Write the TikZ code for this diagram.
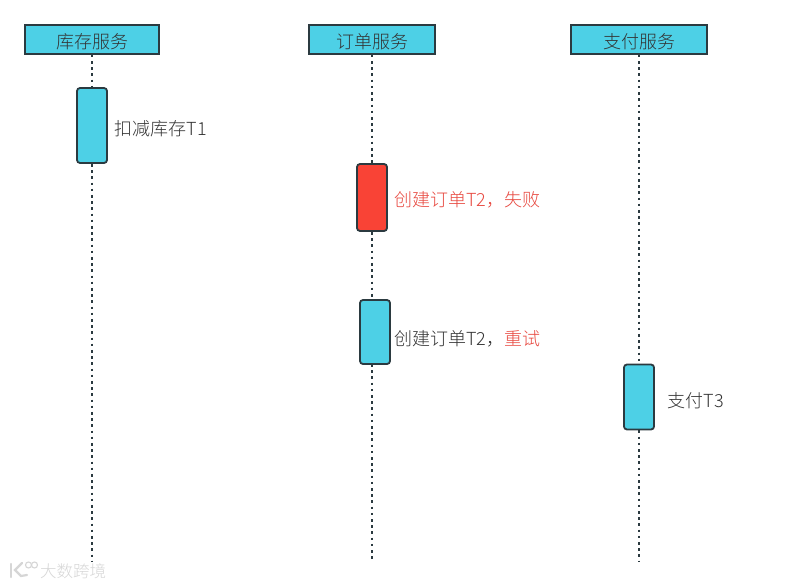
\documentclass[tikz,border=0pt]{standalone}
\usepackage{fontspec}
\setmainfont{Noto Sans CJK SC Light}
\definecolor{cyanfill}{HTML}{4DD0E6}
\definecolor{redfill}{HTML}{F94336}
\definecolor{edgec}{HTML}{2B3A40}
\definecolor{textc}{HTML}{333333}
\definecolor{redtext}{HTML}{E8483F}
\definecolor{wm}{HTML}{D6D6D6}
\tikzset{
  x=1pt,y=-1pt,
  header/.style={draw=edgec,line width=1.8pt,fill=cyanfill,minimum height=29pt,inner sep=0pt,text=textc,text height=19pt,text depth=0pt,font=\fontsize{18}{18}\selectfont},
  act/.style={draw=edgec,line width=1.8pt,rounded corners=3pt,minimum width=30pt,inner sep=0pt},
  lifeline/.style={edgec,line width=2pt,dash pattern=on 2.6pt off 3.6pt},
  lab/.style={anchor=west,inner sep=0pt,text=textc,font=\fontsize{18}{18}\selectfont},
  wmtext/.style={anchor=west,inner sep=0pt,text=wm,font=\fontsize{16.5}{16.5}\selectfont}
}
\begin{document}
\begin{tikzpicture}
\useasboundingbox (0,0) rectangle (809,586);
\fill[white] (0,0) rectangle (809,586);
% headers
\node[header,minimum width=134pt] (h1) at (92,39.5) {库存服务};
\node[header,minimum width=126pt] (h2) at (372,39.5) {订单服务};
\node[header,minimum width=136pt] (h3) at (639,39.5) {支付服务};
% activations
\node[act,fill=cyanfill,minimum height=75pt] (a1) at (92,125.5) {};
\node[act,fill=redfill,minimum height=67pt] (a2) at (372,197.5) {};
\node[act,fill=cyanfill,minimum height=64pt] (a3) at (375,332) {};
\node[act,fill=cyanfill,minimum height=65pt] (a4) at (639,397) {};
% free ends
\coordinate (e1) at (92,561);
\coordinate (e2) at (372,561);
\coordinate (e3) at (639,561);
\coordinate (s2) at (372,300);
\coordinate (s3) at (372,364);
% lifelines
\draw[lifeline] (h1.south) -- (a1.north);
\draw[lifeline] (a1.south) -- (e1);
\draw[lifeline] (h2.south) -- (a2.north);
\draw[lifeline] (a2.south) -- (s2);
\draw[lifeline] (s3) -- (e2);
\draw[lifeline] (h3.south) -- (a4.north);
\draw[lifeline] (a4.south) -- (e3);
% labels
\node[lab] (l1) at (114.5,129) {扣减库存T1};
\node[lab,text=redtext] (l2) at (394,199.5) {创建订单T2，失败};
\node[lab] (l3) at (394,338.5) {创建订单T2，\textcolor{redtext}{重试}};
\node[lab] (l4) at (667.5,400.5) {支付T3};
% watermark
\node[wmtext] (wmk) at (40,571) {大数跨境};
\draw[wm,line width=2.2pt,line cap=round] (11,564) -- (11,577);
\draw[wm,line width=2.2pt,line cap=round] (22,563) -- (15,570) -- (21,576) -- (27,575);
\draw[wm,line width=1.1pt] (28.5,565) circle (3pt);
\draw[wm,line width=1.1pt] (34.5,565) circle (3pt);
\end{tikzpicture}
\end{document}
